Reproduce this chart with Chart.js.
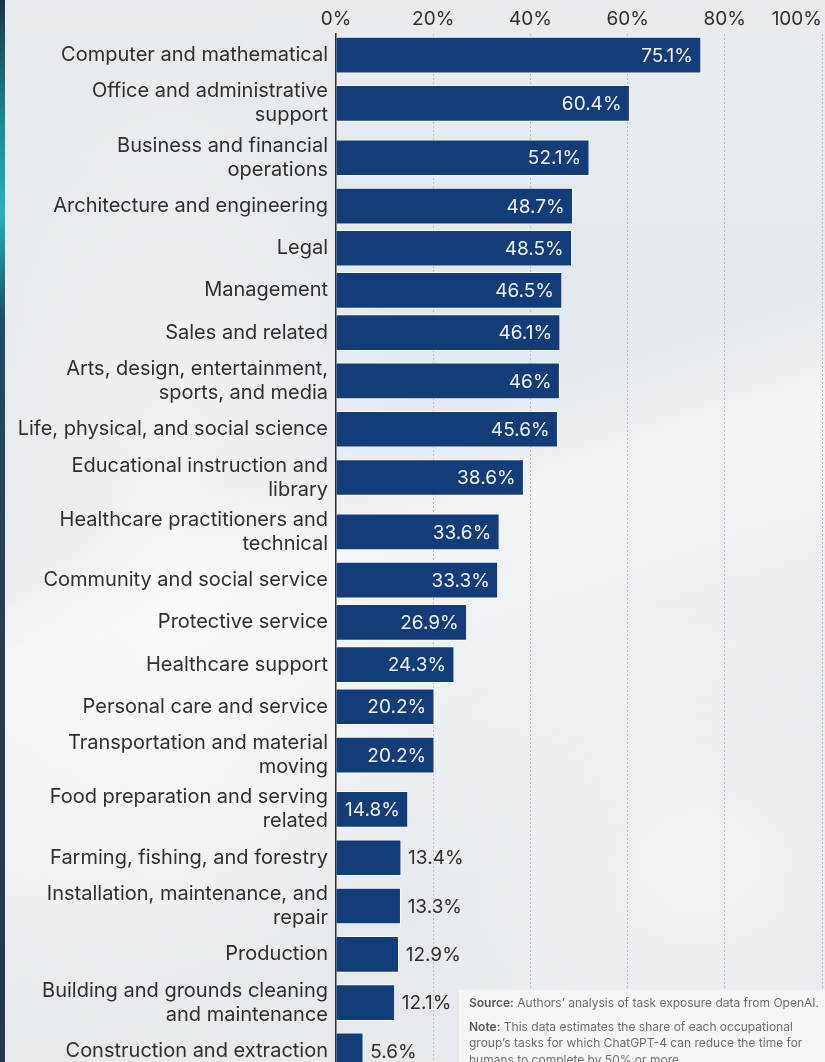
<!DOCTYPE html>
<html>
<head>
<meta charset="utf-8">
<script src="https://cdn.jsdelivr.net/npm/chart.js@4.4.0/dist/chart.umd.min.js"></script>
<style>
  html, body { margin: 0; padding: 0; width: 825px; height: 1062px; overflow: hidden; }
  body {
    position: relative;
    font-family: Inter, "Noto Sans", sans-serif;
    background:
      linear-gradient(162deg, rgba(255,255,255,0) 42%, rgba(255,255,255,0.55) 50%, rgba(255,255,255,0.35) 66%, rgba(255,255,255,0) 78%),
      radial-gradient(ellipse 260px 520px at 170px 560px, rgba(255,255,255,0.55), rgba(255,255,255,0)),
      radial-gradient(ellipse 300px 260px at 700px 860px, rgba(255,255,255,0.5), rgba(255,255,255,0)),
      linear-gradient(180deg, #e7ebee 0%, #e2e7eb 50%, #e6eaed 100%);
  }
  #edge {
    position: absolute; left: 0; top: 0; width: 5px; height: 100%;
    background: linear-gradient(180deg, #1d3442 0%, #1b8c9a 12%, #20b5c0 20%, #1a4d66 30%, #2a3f52 55%, #24384a 100%);
  }
  #wrap { position: absolute; left: 0; top: 0; width: 825px; height: 1072px; }
  #occChart { display: block; width: 825px; height: 1072px; }
  #note {
    position: absolute; left: 459px; top: 990px; width: 366px; height: 90px;
    background: rgba(244,245,246,0.95);
    box-sizing: border-box; padding: 5px 0 0 10px;
    font-size: 12px; line-height: 16.5px; color: #6b6e72;
  }
  #note p { margin: 0 0 7px 0; white-space: nowrap; }
  #note b { color: #55585c; font-weight: 600; }
</style>
</head>
<body>
<div id="edge"></div>
<div id="wrap"><canvas id="occChart" width="825" height="1072"></canvas></div>
<div id="note">
  <p><b>Source:</b> Authors’ analysis of task exposure data from OpenAI.</p>
  <p><b>Note:</b> This data estimates the share of each occupational<br>group’s tasks for which ChatGPT-4 can reduce the time for<br>humans to complete by 50% or more.</p>
</div>
<script>
// occupational groups, wrapped the way they are shown on the axis
const CATEGORIES = [
  ['Computer and mathematical'],
  ['Office and administrative', 'support'],
  ['Business and financial', 'operations'],
  ['Architecture and engineering'],
  ['Legal'],
  ['Management'],
  ['Sales and related'],
  ['Arts, design, entertainment,', 'sports, and media'],
  ['Life, physical, and social science'],
  ['Educational instruction and', 'library'],
  ['Healthcare practitioners and', 'technical'],
  ['Community and social service'],
  ['Protective service'],
  ['Healthcare support'],
  ['Personal care and service'],
  ['Transportation and material', 'moving'],
  ['Food preparation and serving', 'related'],
  ['Farming, fishing, and forestry'],
  ['Installation, maintenance, and', 'repair'],
  ['Production'],
  ['Building and grounds cleaning', 'and maintenance'],
  ['Construction and extraction']
];

// share of tasks exposed, percent
const SHARE = [75.1, 60.4, 52.1, 48.7, 48.5, 46.5, 46.1, 46, 45.6, 38.6, 33.6,
  33.3, 26.9, 24.3, 20.2, 20.2, 14.8, 13.4, 13.3, 12.9, 12.1, 5.6];

const X_TICKS = [0, 20, 40, 60, 80, 100];

const FONT = 'Inter, "Noto Sans", sans-serif';
const TEXT = '#2e2f31';
const BAR = '#133d78';

// rows grow with the number of label lines
const ROW = 42.2;
const EXTRA_LINE = 12.2;
const rowHeights = CATEGORIES.map(l => ROW + EXTRA_LINE * (l.length - 1));
const totalHeight = rowHeights.reduce((a, b) => a + b, 0);
const centers = [];
rowHeights.reduce((top, h) => { centers.push(top + h / 2); return top + h; }, 0);

const valueLabels = {
  id: 'valueLabels',
  afterDatasetsDraw(chart) {
    const ctx = chart.ctx;
    const meta = chart.getDatasetMeta(0);
    ctx.save();
    ctx.font = '19px ' + FONT;
    ctx.textBaseline = 'middle';
    meta.data.forEach((bar, i) => {
      const text = SHARE[i] + '%';
      const w = ctx.measureText(text).width;
      if (w + 16 <= bar.x - bar.base) {
        ctx.fillStyle = '#f2f5fa';
        ctx.textAlign = 'right';
        ctx.fillText(text, bar.x - 8, bar.y + 1);
      } else {
        ctx.fillStyle = TEXT;
        ctx.textAlign = 'left';
        ctx.fillText(text, bar.x + 7, bar.y + 1);
      }
    });
    ctx.restore();
  }
};

// x labels sit above the plot; the last one is pulled in so it stays on canvas
const topTicks = {
  id: 'topTicks',
  afterDraw(chart) {
    const sx = chart.scales.x;
    const ctx = chart.ctx;
    ctx.save();
    ctx.font = '19px ' + FONT;
    ctx.fillStyle = TEXT;
    ctx.textBaseline = 'middle';
    ctx.textAlign = 'center';
    sx.ticks.forEach(t => {
      const label = t.value + '%';
      const w = ctx.measureText(label).width;
      let x = sx.getPixelForValue(t.value);
      x = Math.min(x, chart.width - 3 - w / 2);
      ctx.fillText(label, x, 19);
    });
    ctx.restore();
  }
};

const ctx = document.getElementById('occChart').getContext('2d');
new Chart(ctx, {
  type: 'bar',
  data: {
    datasets: [{
      data: SHARE.map((v, i) => ({ x: v, y: centers[i] })),
      backgroundColor: BAR,
      borderColor: 'rgba(255,255,255,0.75)',
      borderWidth: 1,
      barThickness: 36
    }]
  },
  options: {
    indexAxis: 'y',
    responsive: false,
    animation: false,
    layout: { padding: { top: 34, right: 3, left: 0, bottom: 0 } },
    scales: {
      x: {
        type: 'linear',
        position: 'top',
        min: 0,
        max: 100,
        afterBuildTicks: axis => { axis.ticks = X_TICKS.map(v => ({ value: v })); },
        ticks: { display: false },
        border: { display: false, dash: [2, 2] },
        grid: {
          drawTicks: false,
          color: c => (c.tick && c.tick.value === 0 ? 'rgba(0,0,0,0)' : '#b9bec4'),
          lineWidth: 1
        }
      },
      y: {
        type: 'linear',
        reverse: true,
        offset: false,
        min: 0,
        max: totalHeight,
        afterBuildTicks: axis => { axis.ticks = centers.map(v => ({ value: v })); },
        afterFit: axis => {
          axis.width = 336;
          // rows already leave room for the labels
          axis.paddingTop = 0;
          axis.paddingBottom = 0;
        },
        grid: { display: false, drawTicks: false },
        border: { display: true, color: '#2a2b2d', width: 1.5 },
        ticks: {
          autoSkip: false,
          padding: 8,
          color: TEXT,
          font: { family: FONT, size: 20, lineHeight: 1.2 },
          callback: (v, i) => CATEGORIES[i]
        }
      }
    },
    plugins: {
      legend: { display: false },
      tooltip: { enabled: false }
    }
  },
  plugins: [valueLabels, topTicks]
});
</script>
</body>
</html>
